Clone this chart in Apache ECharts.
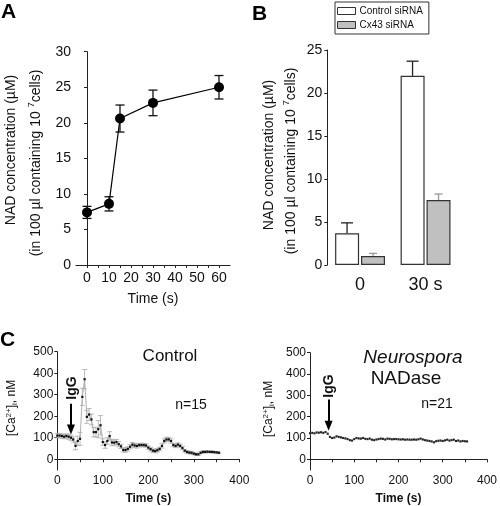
<!DOCTYPE html>
<html><head><meta charset="utf-8">
<script src="https://cdn.jsdelivr.net/npm/echarts@6/dist/echarts.min.js"></script>
<style>html,body{margin:0;padding:0;background:#fff}#c{width:500px;height:506px}</style>
</head><body><div id="c"></div>
<script>
// ---- Panel A ----
const aTime = [0, 10, 15, 30, 60];
const aMean = [7.4, 8.6, 20.6, 22.8, 25.0];
const aErr  = [0.85, 1.0, 1.9, 1.8, 1.65];
// ---- Panel B ----
const bCategories = ['0', '30 s'];
const bControl    = [3.7, 22.0];
const bControlErr = [1.2, 1.7];
const bCx43       = [1.05, 7.55];
const bCx43Err    = [0.3, 0.7];
// ---- Panel C ----
const cTime = [0,5,10,15,20,25,30,35,40,45,50,55,60,65,70,75,80,85,90,95,100,105,110,115,120,125,130,135,140,145,150,155,160,165,170,175,180,185,190,195,200,205,210,215,220,225,230,235,240,245,250,255,260,265,270,275,280,285,290,295,300,305,310,315,320,325,330,335,340,345,350,355];
const cControl = [110,110,108,105,108,105,100,92,62,85,95,290,372,197,208,185,126,126,140,158,80,66,85,108,78,77,80,70,60,43,43,48,58,68,64,62,66,66,66,64,54,47,40,38,42,48,62,85,92,92,85,66,62,68,62,52,40,34,31,30,26,23,23,30,34,34,35,34,34,33,32,30];
const cControlErr = [10,10,10,10,10,12,12,12,18,22,30,40,45,30,28,25,22,22,40,45,15,15,15,20,15,12,12,12,10,10,10,10,10,10,10,10,8,8,8,8,8,8,8,8,8,8,10,10,10,10,10,8,8,8,8,8,6,6,6,6,5,5,5,5,5,5,4,4,4,4,4,4];
const cNadase = [122,124,122,126,125,127,124,128,120,105,100,102,108,105,103,100,98,95,90,88,95,100,98,97,100,96,95,97,92,90,93,95,97,96,93,97,96,94,95,95,94,93,94,92,93,92,92,93,92,94,97,93,90,88,86,84,80,85,87,88,86,89,92,88,90,92,86,88,84,86,85,84];
const cNadaseErr = [4,4,4,4,4,4,4,4,4,4,4,4,4,4,4,4,4,4,4,4,4,4,4,4,4,4,4,4,4,4,4,4,4,4,4,4,4,4,4,4,4,4,4,4,4,4,4,4,4,4,4,4,4,4,4,4,4,4,4,4,4,4,4,4,4,4,4,4,4,4,4,4];
const aTicks = [0,10,20,30,40,50,60];
const cTicks = [0,100,200,300,400];
const cYTicks = [0,100,200,300,400,500];

const FF = "'Liberation Sans', Arial, sans-serif";
const TXT = '#111';
const chart = echarts.init(document.getElementById('c'), null, {renderer:'canvas'});

function errBars(color, cap, lw) {
  return function (params, api) {
    const x = api.value(0), y = api.value(1), e = api.value(2);
    const t = api.coord([x, y + e]), b = api.coord([x, y - e]);
    const st = {stroke: color, lineWidth: lw};
    return {type:'group', children:[
      {type:'line', shape:{x1:t[0],y1:t[1],x2:b[0],y2:b[1]}, style:st},
      {type:'line', shape:{x1:t[0]-cap,y1:t[1],x2:t[0]+cap,y2:t[1]}, style:st},
      {type:'line', shape:{x1:b[0]-cap,y1:b[1],x2:b[0]+cap,y2:b[1]}, style:st}
    ]};
  };
}
function upBars(offset, color, cap) {
  return function (params, api) {
    const c = api.value(0), y = api.value(1), e = api.value(2);
    const b = api.coord([c, y]), t = api.coord([c, y + e]);
    const x = b[0] + offset;
    const st = {stroke: color, lineWidth: 1.3};
    return {type:'group', children:[
      {type:'line', shape:{x1:x,y1:b[1],x2:x,y2:t[1]}, style:st},
      {type:'line', shape:{x1:x-cap,y1:t[1],x2:x+cap,y2:t[1]}, style:st}
    ]};
  };
}

const axLine = {show:true, lineStyle:{color:'#222', width:1}};
const axTick = {show:true, inside:false, length:3, lineStyle:{color:'#222'}};

const aData = aTime.map((t,i)=>[t, aMean[i]]);
const aErrData = aTime.map((t,i)=>[t, aMean[i], aErr[i]]);
const cCtrlData = cTime.map((t,i)=>[t, cControl[i]]);
const cCtrlErrData = cTime.map((t,i)=>[t, cControl[i], cControlErr[i]]);
const cNadData = cTime.map((t,i)=>[t, cNadase[i]]);
const cNadErrData = cTime.map((t,i)=>[t, cNadase[i], cNadaseErr[i]]);

function rotText(x, y, text, size, extra) {
  return {
    type:'text', x:x, y:y, rotation:Math.PI/2,
    style:Object.assign({text:text, fontSize:size, fontFamily:FF, fill:TXT, align:'center', verticalAlign:'middle'}, extra || {})
  };
}
const richSup = {
  m:{fontSize:14, fontFamily:FF, fill:TXT, lineHeight:18},
  s:{fontSize:9, fontFamily:FF, fill:TXT, lineHeight:18, verticalAlign:'top', padding:[0,0,6,0]}
};
const richCa = {
  m:{fontSize:12, fontFamily:FF, fill:TXT, lineHeight:16},
  s:{fontSize:8, fontFamily:FF, fill:TXT, lineHeight:16, padding:[0,0,7,0]},
  b:{fontSize:8, fontFamily:FF, fill:TXT, lineHeight:16, padding:[5,0,0,0]}
};

const option = {
  animation:false,
  backgroundColor:'#fff',
  textStyle:{fontFamily:FF, color:TXT},
  grid:[
    {left:76, top:51.7, width:154, height:213.3},
    {left:327.3, top:50, width:131, height:215},
    {left:57.3, top:351.7, width:182, height:118.8},
    {left:310, top:352.7, width:179.3, height:118.5}
  ],
  legend:{
    left:335, top:2, orient:'vertical', itemWidth:18, itemHeight:7, itemGap:4,
    padding:[4,6,4,2], borderColor:'#333', borderWidth:1,
    textStyle:{fontSize:10, fontFamily:FF, color:TXT, padding:[0,0,0,-1]},
    data:[
      {name:'Control siRNA', icon:'rect', itemStyle:{color:'#fff', borderColor:'#333', borderWidth:1}},
      {name:'Cx43 siRNA', icon:'rect', itemStyle:{color:'#c0c0c0', borderColor:'#333', borderWidth:1}}
    ]
  },
  xAxis:[
    {gridIndex:0, type:'value', min:-5, max:65, axisLine:axLine,
     axisTick:Object.assign({}, axTick, {customValues:[0,5,10,15,20,25,30,35,40,45,50,55,60]}),
     axisLabel:{customValues:aTicks, fontSize:14, color:TXT, margin:6, fontFamily:FF},
     splitLine:{show:false},
     name:'Time (s)', nameLocation:'middle', nameGap:27, nameTextStyle:{fontSize:14, color:TXT, fontFamily:FF}},
    {gridIndex:1, type:'category', data:bCategories, axisLine:{show:false}, axisTick:{show:false},
     axisLabel:{fontSize:18, color:TXT, margin:11, fontFamily:FF}},
    {gridIndex:2, type:'value', min:0, max:400, interval:50, axisLine:axLine, axisTick:axTick,
     axisLabel:{customValues:cTicks, fontSize:12, color:TXT, margin:5, fontFamily:FF},
     splitLine:{show:false},
     name:'Time (s)', nameLocation:'middle', nameGap:23, nameTextStyle:{fontSize:12, fontWeight:'bold', color:TXT, fontFamily:FF}},
    {gridIndex:3, type:'value', min:0, max:400, interval:50, axisLine:axLine, axisTick:axTick,
     axisLabel:{customValues:cTicks, fontSize:12, color:TXT, margin:5, fontFamily:FF},
     splitLine:{show:false},
     name:'Time (s)', nameLocation:'middle', nameGap:23, nameTextStyle:{fontSize:12, fontWeight:'bold', color:TXT, fontFamily:FF}}
  ],
  yAxis:[
    {gridIndex:0, type:'value', min:0, max:30, interval:5, axisLine:axLine, axisTick:axTick,
     axisLabel:{fontSize:14, color:TXT, margin:5, fontFamily:FF}, splitLine:{show:false}},
    {gridIndex:1, type:'value', min:0, max:25, interval:5, axisLine:axLine, axisTick:axTick,
     axisLabel:{fontSize:14, color:TXT, margin:5, fontFamily:FF}, splitLine:{show:false}},
    {gridIndex:2, type:'value', min:-50, max:500, axisLine:axLine,
     axisTick:Object.assign({}, axTick, {customValues:cYTicks}),
     axisLabel:{customValues:cYTicks, fontSize:12, color:TXT, margin:4, fontFamily:FF}, splitLine:{show:false}},
    {gridIndex:3, type:'value', min:-50, max:500, axisLine:axLine,
     axisTick:Object.assign({}, axTick, {customValues:cYTicks}),
     axisLabel:{customValues:cYTicks, fontSize:12, color:TXT, margin:4, fontFamily:FF}, splitLine:{show:false}}
  ],
  series:[
    {type:'custom', xAxisIndex:0, yAxisIndex:0, renderItem:errBars('#111', 4.5, 1.3), data:aErrData, z:2},
    {type:'line', xAxisIndex:0, yAxisIndex:0, data:aData, symbol:'circle', symbolSize:10,
     itemStyle:{color:'#000'}, lineStyle:{color:'#000', width:1.2}, z:3},

    {type:'bar', name:'Control siRNA', xAxisIndex:1, yAxisIndex:1, data:bControl, barWidth:24, barGap:'8%',
     itemStyle:{color:'#fff', borderColor:'#333', borderWidth:1.2}},
    {type:'bar', name:'Cx43 siRNA', xAxisIndex:1, yAxisIndex:1, data:bCx43, barWidth:24,
     itemStyle:{color:'#c0c0c0', borderColor:'#333', borderWidth:1.2}},
    {type:'custom', xAxisIndex:1, yAxisIndex:1, renderItem:upBars(-13, '#222', 6),
     data:bControl.map((v,i)=>[i, v, bControlErr[i]]), z:5},
    {type:'custom', xAxisIndex:1, yAxisIndex:1, renderItem:upBars(13, '#999', 4),
     data:bCx43.map((v,i)=>[i, v, bCx43Err[i]]), z:5},

    {type:'custom', xAxisIndex:2, yAxisIndex:2, renderItem:errBars('#aaa', 2.5, 0.8), data:cCtrlErrData, z:2},
    {type:'line', xAxisIndex:2, yAxisIndex:2, data:cCtrlData, symbol:'rect', symbolSize:2.2,
     itemStyle:{color:'#111'}, lineStyle:{color:'#b0b0b0', width:1}, z:3,
     markLine:{silent:true, symbol:['none','triangle'], symbolSize:[8,10], label:{show:false},
       lineStyle:{color:'#000', width:2, type:'solid'},
       data:[[{coord:[30,258]},{coord:[30,138]}]]}},

    {type:'custom', xAxisIndex:3, yAxisIndex:3, renderItem:errBars('#bbb', 1.2, 0.6), data:cNadErrData, z:2},
    {type:'line', xAxisIndex:3, yAxisIndex:3, data:cNadData, symbol:'rect', symbolSize:2,
     itemStyle:{color:'#222'}, lineStyle:{color:'#c8c8c8', width:0.8}, z:3,
     markLine:{silent:true, symbol:['none','triangle'], symbolSize:[8,10], label:{show:false},
       lineStyle:{color:'#000', width:2, type:'solid'},
       data:[[{coord:[42,280]},{coord:[42,158]}]]}}
  ],
  graphic:[
    {type:'text', x:1, y:2, style:{text:'A', fontSize:21, fontWeight:'bold', fontFamily:FF, fill:'#000'}},
    {type:'text', x:252, y:4, style:{text:'B', fontSize:21, fontWeight:'bold', fontFamily:FF, fill:'#000'}},
    {type:'text', x:0, y:330, style:{text:'C', fontSize:21, fontWeight:'bold', fontFamily:FF, fill:'#000'}},

    rotText(11, 150, 'NAD concentration (µM)', 14),
    rotText(36, 163, '{m|(in 100 µl containing 10 }{s|7}{m|cells)}', 14, {rich:richSup}),
    rotText(269, 155, 'NAD concentration (µM)', 14),
    rotText(291, 161, '{m|(in 100 µl containing 10 }{s|7}{m|cells)}', 14, {rich:richSup}),

    rotText(12, 408, '{m|[Ca}{s|2+}{m|]}{b|i}{m|, nM}', 12, {rich:richCa}),
    rotText(269, 409, '{m|[Ca}{s|2+}{m|]}{b|i}{m|, nM}', 12, {rich:richCa}),

    {type:'text', x:170, y:356, style:{text:'Control', fontSize:17, fontFamily:FF, fill:TXT, align:'center', verticalAlign:'middle'}},
    {type:'text', x:191, y:405, style:{text:'n=15', fontSize:14, fontFamily:FF, fill:TXT, align:'center', verticalAlign:'middle'}},
    rotText(72, 388, 'IgG', 14, {fontWeight:'bold'}),

    {type:'text', x:413, y:358, style:{text:'Neurospora', fontSize:19, fontStyle:'italic', fontFamily:FF, fill:TXT, align:'center', verticalAlign:'middle'}},
    {type:'text', x:406, y:379, style:{text:'NADase', fontSize:19, fontFamily:FF, fill:TXT, align:'center', verticalAlign:'middle'}},
    {type:'text', x:437, y:404, style:{text:'n=21', fontSize:14, fontFamily:FF, fill:TXT, align:'center', verticalAlign:'middle'}},
    rotText(329, 386, 'IgG', 14, {fontWeight:'bold'})
  ]
};
chart.setOption(option);
</script>
</body></html>
